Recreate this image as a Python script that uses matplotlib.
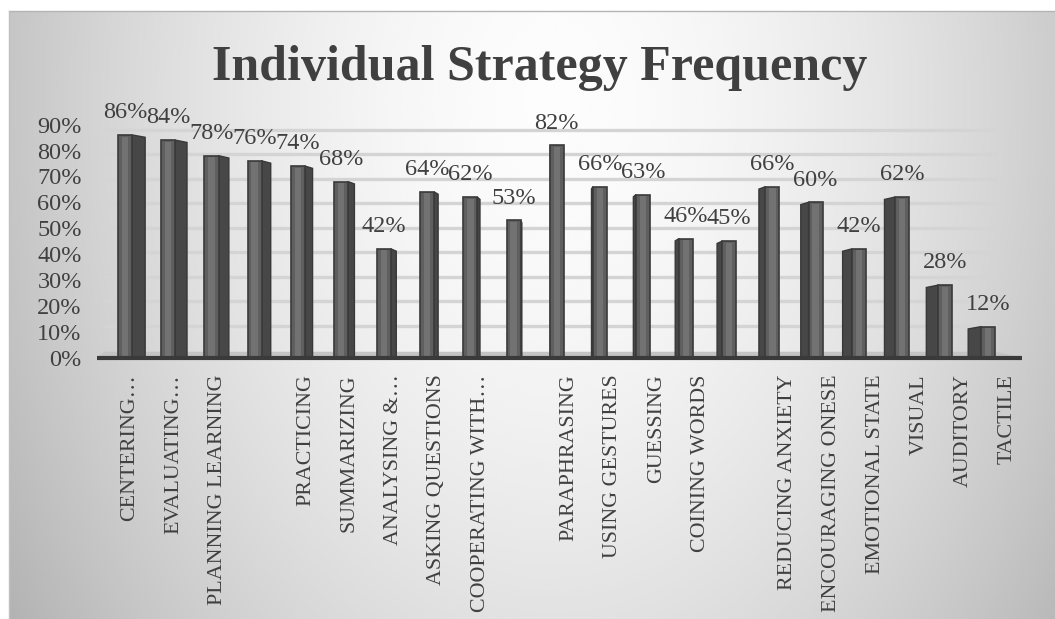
import numpy as np
import matplotlib
matplotlib.use("Agg")
import matplotlib.pyplot as plt
from matplotlib.patches import Rectangle, Polygon

# data
categories = ["CENTERING…", "EVALUATING…", "PLANNING LEARNING", "", "PRACTICING",
              "SUMMARIZING", "ANALYSING &…", "ASKING QUESTIONS", "COOPERATING WITH…", "",
              "PARAPHRASING", "USING GESTURES", "GUESSING", "COINING WORDS", "",
              "REDUCING ANXIETY", "ENCOURAGING ONESE", "EMOTIONAL STATE", "VISUAL",
              "AUDITORY", "TACTILE"]
values = [86, 84, 78, 76, 74, 68, 42, 64, 62, 53, 82, 66, 63, 46, 45, 66, 60, 42, 62, 28, 12]
y_ticks = [0, 10, 20, 30, 40, 50, 60, 70, 80, 90]
title = "Individual Strategy Frequency"

plt.rcParams['font.family'] = ['Liberation Serif', 'DejaVu Serif']
txt = '#404040'

W, H = 1055, 619
fig = plt.figure(figsize=(W / 100, H / 100), dpi=100)
fig.patch.set_facecolor('white')

# background gradient (light centre near the title, grey towards edges)
bg = fig.add_axes([9 / W, 0, 1 - 9 / W, 1 - 11 / H])
gx, gy = np.meshgrid(np.linspace(0, 1, 400), np.linspace(0, 1, 300))
r = np.sqrt(((gx - 0.52) / 0.5) ** 2 + ((gy - 0.85) / 1.25) ** 2)
grad = np.clip(0.99 - 0.2 * r ** 1.7, 0, 1)
bg.imshow(grad, extent=[0, 1, 0, 1], origin='lower', aspect='auto',
          cmap='gray', vmin=0, vmax=1, interpolation='bicubic')
bg.set_xlim(0, 1)
bg.set_ylim(0, 1)
bg.axis('off')
fig.add_artist(plt.Line2D([9 / W, 1], [1 - 11 / H, 1 - 11 / H], color='#b4b4b4', lw=1))
fig.add_artist(plt.Line2D([9 / W, 9 / W], [0, 1 - 11 / H], color='#c0c0c0', lw=1))

# plot area
ax = fig.add_axes([97 / W, 1 - 357.7 / H, 925 / W, 259 / H])
ax.patch.set_alpha(0)
ax.set_xlim(-0.753, 20.342)
ax.set_ylim(0, 100)
for s in ax.spines.values():
    s.set_visible(False)

# back wall gridlines (3D depth shift)
floor_h = 2.3
grid_vals = [floor_h + 0.5 + t * 0.946 for t in y_ticks[1:]]
ax.hlines(grid_vals, -0.59, 19.77, colors='#d4d4d4', lw=2.4, zorder=1)

# floor
ax.add_patch(Polygon([(-0.753, 0), (20.342, 0), (19.77, floor_h), (-0.59, floor_h)],
                     closed=True, fc='#c4c4c4', ec='none', zorder=2))

# 3D-looking bars
depth = 0.984
shift = -0.11
hw = 0.16
vp = 10 * depth + shift
for i, v in enumerate(values):
    xc = i * depth + shift
    sw = 0.03 * abs(xc - vp)
    if xc < vp:
        xe = xc + hw
        side = [(xe, 0), (xe + sw, 0), (xe + sw, v - 0.9), (xe, v)]
    else:
        xe = xc - hw
        side = [(xe, 0), (xe - sw, 0), (xe - sw, v - 0.9), (xe, v)]
    ax.add_patch(Polygon(side, closed=True, fc='#474747', ec='#383838', lw=1.0, zorder=3))
    ax.add_patch(Rectangle((xc - hw, 0), 2 * hw, v, fc='#5f5f5f', ec='#3a3a3a', lw=1.2, zorder=4))
    ax.add_patch(Rectangle((xc - hw * 0.45, 0.3), hw * 0.9, v - 0.9, fc='#727272', ec='none', zorder=5))
    ax.annotate(f"{v}%", (xc, v), xytext=(0, 16), textcoords='offset points',
                ha='center', va='center', fontsize=17.5, color=txt, zorder=6)

# front axis line
ax.plot([-0.753, 20.342], [0, 0], color='#3a3a3a', lw=3, solid_capstyle='butt',
        zorder=7, clip_on=False)

ax.set_yticks(y_ticks)
ax.set_yticklabels([f"{t}%" for t in y_ticks], fontsize=17.5, color=txt)
ax.set_xticks(range(len(categories)))
ax.set_xticklabels(categories, rotation=90, fontsize=15.8, color=txt, va='top')
ax.tick_params(axis='both', length=0)
ax.tick_params(axis='y', pad=11)
ax.tick_params(axis='x', pad=12)

fig.text(540 / W, 1 - 80 / H, title, ha='center', va='baseline',
         fontsize=36, fontweight='bold', color=txt)

fig.savefig('out.png', dpi=100, facecolor=fig.get_facecolor())
